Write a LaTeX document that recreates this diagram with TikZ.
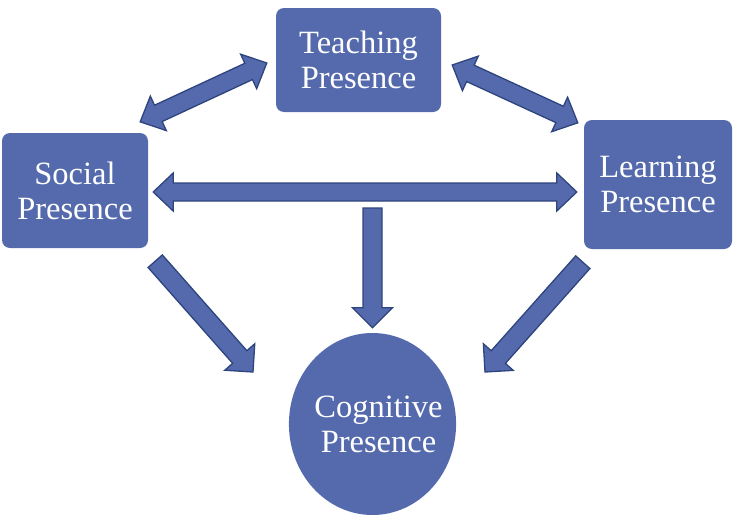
\documentclass[tikz,border=0pt]{standalone}
\usepackage{fontspec}
\setmainfont{Liberation Serif}
\usetikzlibrary{calc,shapes.geometric}
\definecolor{boxblue}{RGB}{84,106,172}
\definecolor{rimblue}{RGB}{46,68,126}

% fat block arrows between two points
\newcommand{\onearrow}[2]{%
    \coordinate (hb) at ($(#2)!20pt!(#1)$);
    \filldraw[fatarrow] ($(#1)!9.5pt!90:(#2)$) -- ($(hb)!9.5pt!-90:(#1)$)
        -- ($(hb)!20pt!-90:(#1)$) -- (#2) -- ($(hb)!20pt!90:(#1)$)
        -- ($(hb)!9.5pt!90:(#1)$) -- ($(#1)!9.5pt!-90:(#2)$) -- cycle;
}
\newcommand{\twoarrow}[2]{%
    \coordinate (ha) at ($(#1)!20pt!(#2)$);
    \coordinate (hb) at ($(#2)!20pt!(#1)$);
    \filldraw[fatarrow] (#1) -- ($(ha)!19pt!90:(#2)$) -- ($(ha)!9pt!90:(#2)$)
        -- ($(hb)!9pt!-90:(#1)$) -- ($(hb)!19pt!-90:(#1)$) -- (#2)
        -- ($(hb)!19pt!90:(#1)$) -- ($(hb)!9pt!90:(#1)$)
        -- ($(ha)!9pt!-90:(#2)$) -- ($(ha)!19pt!-90:(#2)$) -- cycle;
}

\begin{document}
\begin{tikzpicture}[
        x=1pt, y=-1pt,
        presbox/.style={
            rectangle,
            rounded corners=8pt,
            fill=boxblue,
            text=white,
            align=center,
            inner sep=0pt,
            font=\fontsize{32.5}{35}\selectfont
        },
        fatarrow/.style={
            fill=boxblue,
            draw=rimblue,
            line width=1.3pt,
            line join=miter
        }
    ]
        \useasboundingbox (0,0) rectangle (735,514);

        \node[presbox, minimum width=165pt, minimum height=104pt] (teach) at (358.5,60) {Teaching\\Presence};
        \node[presbox, minimum width=146pt, minimum height=115pt] (social) at (75,190.5) {Social\\Presence};
        \node[presbox, minimum width=148pt, minimum height=129pt] (learn) at (658,184.5) {Learning\\Presence};
        \node[presbox, ellipse, inner xsep=-11pt, minimum width=167pt, minimum height=182pt] (cog) at (372.5,424)
            {\hspace*{12pt}Cognitive\\\hspace*{12pt}Presence};

        % arrow ends
        \coordinate (ts) at ([shift={(-9,3)}]teach.west);
        \coordinate (st) at ([shift={(-8,-11)}]social.north east);
        \coordinate (tl) at ([shift={(11,5)}]teach.east);
        \coordinate (lt) at ([shift={(-6,3)}]learn.north west);
        \coordinate (sl) at ([shift={(5,1.5)}]social.east);
        \coordinate (ls) at ([shift={(-7,7.5)}]learn.west);
        \coordinate (vtop) at (372.5,208);
        \coordinate (cv) at ([shift={(0,-5)}]cog.north);
        \coordinate (sc) at ([shift={(7,13)}]social.south east);
        \coordinate (cs) at ([shift={(-119.5,-52)}]cog.center);
        \coordinate (lc) at ([shift={(-1,13)}]learn.south west);
        \coordinate (cl) at ([shift={(112.5,-52)}]cog.center);

        \twoarrow{st}{ts}
        \twoarrow{tl}{lt}
        \twoarrow{sl}{ls}
        \onearrow{vtop}{cv}
        \onearrow{sc}{cs}
        \onearrow{lc}{cl}
    \end{tikzpicture}
\end{document}
